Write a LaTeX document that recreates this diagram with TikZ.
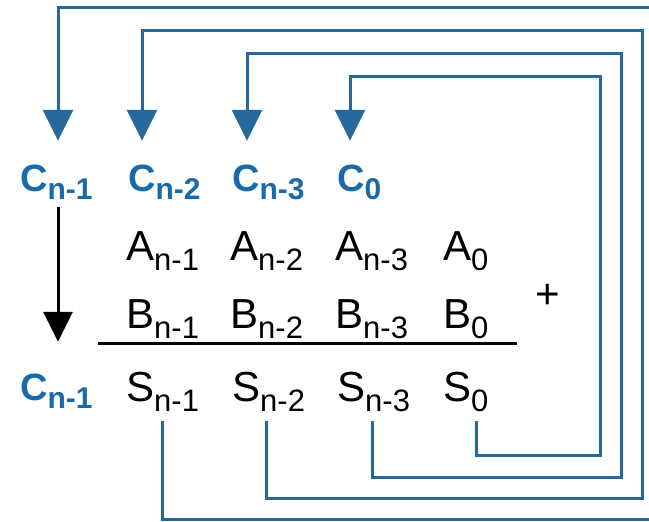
\documentclass[tikz,border=0pt]{standalone}
\usepackage{fontspec}
\setmainfont{Liberation Sans}
\usetikzlibrary{arrows.meta}
\definecolor{carry}{RGB}{26,106,170}
\definecolor{wire}{RGB}{38,104,156}
\newcommand{\ix}[1]{\raisebox{-10pt}{\fontsize{31}{31}\selectfont #1}}
\newcommand{\cx}[1]{\raisebox{-8pt}{\fontsize{30}{30}\selectfont\bfseries #1}}
\tikzstyle{c}=[anchor=base west, inner sep=0pt, text height=28pt, text depth=10pt, text=carry, font=\fontsize{38}{38}\selectfont\bfseries]
\tikzstyle{d}=[anchor=base west, inner sep=0pt, text height=30pt, text depth=10pt, font=\fontsize{42}{42}\selectfont]
\tikzstyle{fb}=[draw=wire, line width=3pt, -{Triangle[width=30pt,length=31pt]}]

\begin{document}
\begin{tikzpicture}[x=1pt, y=-1pt]
	\clip (0,0) rectangle (649,522);

	% carries
	\node[c] (Cn1) at (20,191) {C\cx{n-1}};
	\node[c] (Cn2) at (128,191) {C\cx{n-2}};
	\node[c] (Cn3) at (232,191) {C\cx{n-3}};
	\node[c] (C0)  at (337,191) {C\cx{0}};

	% operands
	\node[d] (An1) at (126,260) {A\ix{n-1}};
	\node[d] (An2) at (230,260) {A\ix{n-2}};
	\node[d] (An3) at (335,260) {A\ix{n-3}};
	\node[d] (A0)  at (443,260) {A\ix{0}};

	\node[d] (Bn1) at (126,328) {B\ix{n-1}};
	\node[d] (Bn2) at (230,328) {B\ix{n-2}};
	\node[d] (Bn3) at (335,328) {B\ix{n-3}};
	\node[d] (B0)  at (443,328) {B\ix{0}};

	\node[font=\fontsize{42}{42}\selectfont, inner sep=0pt] (plus) at (548,296) {+};
	\draw[line width=3pt] (98,343) -- (517,343);

	% sum
	\node[c] (Cout) at (20,400) {C\cx{n-1}};
	\node[d] (Sn1) at (126,401) {S\ix{n-1}};
	\node[d] (Sn2) at (232,401) {S\ix{n-2}};
	\node[d] (Sn3) at (337,401) {S\ix{n-3}};
	\node[d] (S0)  at (443,401) {S\ix{0}};

	\draw[line width=3pt, -{Triangle[width=29pt,length=30pt]}]
	([xshift=38pt,yshift=-6pt]Cn1.south west) -- ([xshift=38pt,yshift=30pt]Cout.north west);

	\draw[fb] ([xshift=33pt,yshift=-10pt]S0.south west) |- (600,455) |- (350,76)
	-- ([xshift=13pt,yshift=22pt]C0.north west);
	\draw[fb] ([xshift=35pt,yshift=-10pt]Sn3.south west) |- (621,477) |- (247,53)
	-- ([xshift=15pt,yshift=22pt]Cn3.north west);
	\draw[fb] ([xshift=34pt,yshift=-10pt]Sn2.south west) |- (642,498) |- (142,30)
	-- ([xshift=14pt,yshift=22pt]Cn2.north west);
	\draw[fb] ([xshift=36pt,yshift=-10pt]Sn1.south west) |- (665,519) |- (58,7)
	-- ([xshift=38pt,yshift=22pt]Cn1.north west);
\end{tikzpicture}
\end{document}
